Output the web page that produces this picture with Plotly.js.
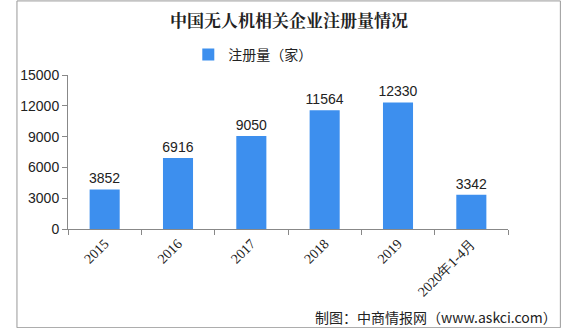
<!DOCTYPE html>
<html><head><meta charset="utf-8">
<script src="https://cdn.plot.ly/plotly-3.0.1.min.js"></script>
<style>html,body{margin:0;padding:0;background:#fff}#c{width:578px;height:328px}</style>
</head><body><div id="c"></div>
<script>
const categories = ["2015","2016","2017","2018","2019","2020年1-4月"];
const values = [3852,6916,9050,11564,12330,3342];
const seriesName = "注册量（家）";
const yTicks = [0,3000,6000,9000,12000,15000];

const font = "'Noto Sans CJK SC', 'DejaVu Sans', sans-serif";
const numFont = "'Liberation Sans', Arial, sans-serif";
const trace = {
  type: "bar", x: categories, y: values, name: seriesName,
  marker: {color: "#3d8fee"}, width: 0.41,
  text: values.map(String), textposition: "outside", cliponaxis: false, constraintext: "none",
  textfont: {size: 14, color: "#222", family: numFont}
};
const layout = {
  width: 578, height: 328,
  margin: {l: 68, r: 70, t: 75, b: 99},
  paper_bgcolor: "#fff", plot_bgcolor: "#fff",
  font: {family: font, size: 13, color: "#222"},
  title: {text: "<b>中国无人机相关企业注册量情况</b>", x: 0.5, xanchor: "center", y: 0.935, yanchor: "middle",
          font: {size: 17, color: "#222", family: "'Noto Serif CJK SC', 'Noto Sans CJK SC', serif"}},
  showlegend: true,
  legend: {orientation: "h", x: 0.42, xanchor: "center", y: 1.13, yanchor: "middle",
           font: {size: 14, color: "#222"}, itemwidth: 30},
  xaxis: {type: "category", showline: true, linecolor: "#888", linewidth: 1,
          ticks: "outside", tickson: "boundaries", ticklen: 5, tickcolor: "#888",
          tickangle: -45, tickfont: {size: 14, family: "'Liberation Serif', serif", color: "#222"},
          showgrid: false},
  yaxis: {range: [0, 15000], tickvals: yTicks, ticktext: yTicks.map(String), showline: true, linecolor: "#888", linewidth: 1,
          ticks: "outside", ticklen: 5, tickcolor: "#888", showgrid: false, zeroline: false,
          tickfont: {size: 14, color: "#222", family: numFont}},
  shapes: [{type: "rect", xref: "paper", yref: "paper", x0: -0.116, x1: 1.119, y0: -0.641, y1: 1.481,
            line: {color: "#999", width: 1}}],
  annotations: [{text: "制图：中商情报网（www.askci.com）", xref: "paper", yref: "paper",
                 x: 1.115, xanchor: "right", y: -0.57, yanchor: "middle", showarrow: false,
                 font: {size: 14, color: "#222"}}]
};
Plotly.newPlot("c", [trace], layout, {displayModeBar: false});
</script></body></html>
